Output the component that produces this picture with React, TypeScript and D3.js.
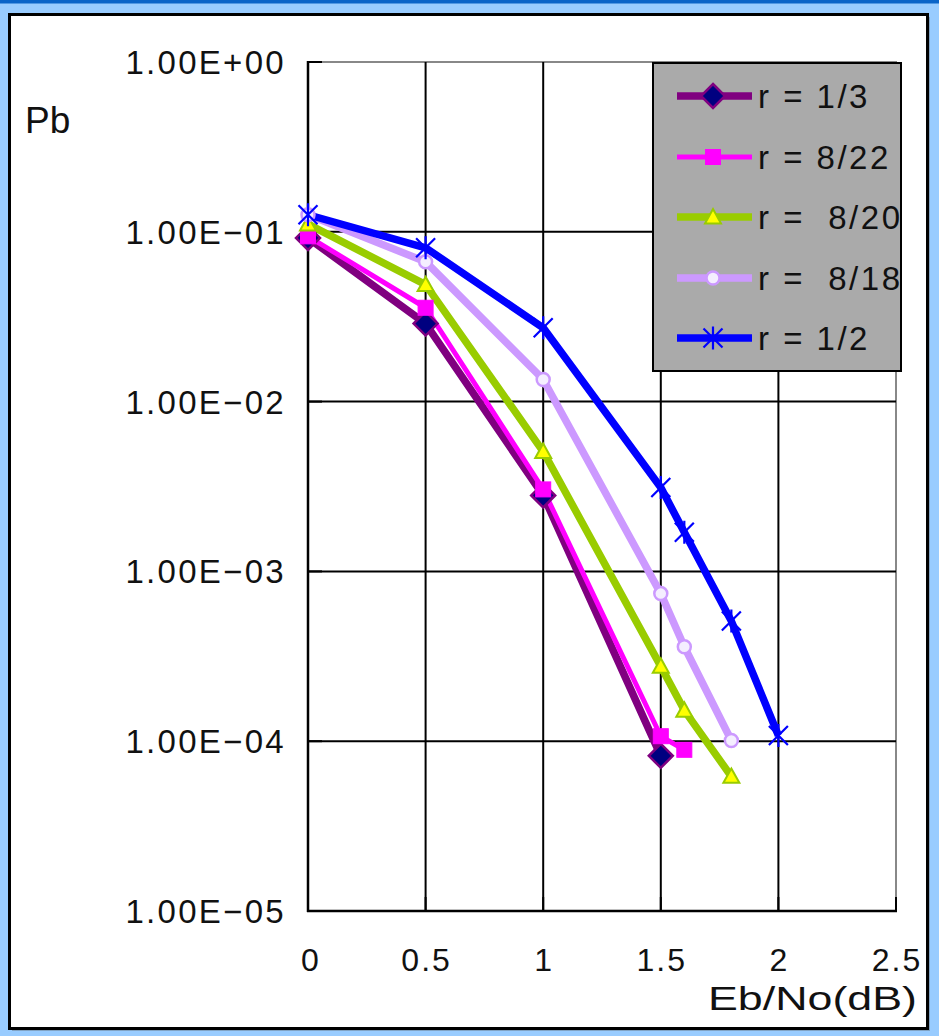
import React from "react";
import * as d3 from "d3";

const xTicks = [0, 0.5, 1, 1.5, 2, 2.5];
const xTickLabels = ["0", "0.5", "1", "1.5", "2", "2.5"];
const yTicks = [1, 1e-1, 1e-2, 1e-3, 1e-4, 1e-5];
const yTickLabels = ["1.00E+00", "1.00E−01", "1.00E−02", "1.00E−03", "1.00E−04", "1.00E−05"];

const xR13 = [0, 0.5, 1, 1.5];
const yR13 = [0.092, 0.0288, 0.0028, 8.2e-5];
const xR822 = [0, 0.5, 1, 1.5, 1.6];
const yR822 = [0.094, 0.0357, 0.00304, 1.07e-4, 8.9e-5];
const xR820 = [0, 0.5, 1, 1.5, 1.6, 1.8];
const yR820 = [0.111, 0.0488, 0.00508, 2.76e-4, 1.52e-4, 6.2e-5];
const xR818 = [0, 0.5, 1, 1.5, 1.6, 1.8];
const yR818 = [0.126, 0.0666, 0.0135, 7.4e-4, 3.6e-4, 1.01e-4];
const xR12 = [0, 0.5, 1, 1.5, 1.6, 1.8, 2];
const yR12 = [0.126, 0.0805, 0.0272, 0.00312, 0.0017, 5.1e-4, 1.08e-4];

const seriesNames = ["r = 1/3", "r = 8/22", "r =  8/20", "r =  8/18", "r = 1/2"];

type Marker = "diamond" | "square" | "triangle" | "circle" | "star";
const series = [
  { name: seriesNames[0], xs: xR13, ys: yR13, color: "#800080", width: 7.5, marker: "diamond" as Marker },
  { name: seriesNames[1], xs: xR822, ys: yR822, color: "#FF00FF", width: 5, marker: "square" as Marker },
  { name: seriesNames[2], xs: xR820, ys: yR820, color: "#99CC00", width: 7.5, marker: "triangle" as Marker },
  { name: seriesNames[3], xs: xR818, ys: yR818, color: "#CC99FF", width: 7.5, marker: "circle" as Marker },
  { name: seriesNames[4], xs: xR12, ys: yR12, color: "#0000FF", width: 7.5, marker: "star" as Marker },
];

const FONT = "'Liberation Sans', Arial, sans-serif";

function MarkerShape({ kind, x, y, color }: { kind: Marker; x: number; y: number; color: string }) {
  switch (kind) {
    case "diamond": {
      const s = 12;
      return (
        <path
          d={`M${x},${y - s}L${x + s},${y}L${x},${y + s}L${x - s},${y}Z`}
          fill="#000080"
          stroke="#800080"
          strokeWidth={2.5}
        />
      );
    }
    case "square": {
      const s = 7.5;
      return <rect x={x - s} y={y - s} width={2 * s} height={2 * s} fill="#FF00FF" stroke="#FF00FF" strokeWidth={1} />;
    }
    case "triangle": {
      const s = 8;
      return (
        <path
          d={`M${x},${y - s}L${x + s},${y + s * 0.8}L${x - s},${y + s * 0.8}Z`}
          fill="#FFFF00"
          stroke="#99CC00"
          strokeWidth={2}
        />
      );
    }
    case "circle":
      return <circle cx={x} cy={y} r={6.5} fill="#F4EEFF" stroke="#CC99FF" strokeWidth={2.5} />;
    case "star": {
      const s = 9.5;
      return (
        <path
          d={`M${x - s},${y - s}L${x + s},${y + s}M${x + s},${y - s}L${x - s},${y + s}M${x},${y - s - 2}L${x},${y + s + 2}`}
          stroke={color}
          strokeWidth={2.2}
          fill="none"
        />
      );
    }
  }
  return null;
}

export default function App() {
  const left = 308, right = 896, top = 62, bottom = 911;
  const x = d3.scaleLinear().domain([0, 2.5]).range([left, right]);
  const y = d3.scaleLog().domain([1e-5, 1]).range([bottom, top]);

  const legend = { x: 653, y: 63, w: 248, h: 308 };
  const legendRows = [96, 157, 217, 278, 338];

  return (
    <svg
      width={939}
      height={1036}
      style={{ position: "absolute", left: 0, top: 0, display: "block" }}
      fontFamily={FONT}
    >
      <rect x={0} y={0} width={939} height={1036} fill="#99CCFF" />
      <rect x={0} y={0} width={939} height={3.5} fill="#0A64C8" />
      {/* panel shadow */}
      <rect x={12} y={17} width={918} height={1014} fill="#555" opacity={0.35} />
      <rect x={9.5} y={14.5} width={918} height={1014} fill="#FFFFFF" stroke="#000" strokeWidth={3} />

      {/* plot border (gray) */}
      <rect x={left} y={top} width={right - left} height={bottom - top} fill="#FFFFFF" stroke="#888" strokeWidth={2} />

      {/* grid lines */}
      {xTicks.slice(1, -1).map((t) => (
        <line key={"gx" + t} x1={x(t)} x2={x(t)} y1={top} y2={bottom} stroke="#000" strokeWidth={2} />
      ))}
      {yTicks.slice(1, -1).map((t) => (
        <line key={"gy" + t} x1={left} x2={right} y1={y(t)} y2={y(t)} stroke="#000" strokeWidth={2} />
      ))}
      {/* ticks inside */}
      {xTicks.map((t) => (
        <line key={"tx" + t} x1={x(t)} x2={x(t)} y1={bottom} y2={bottom - 14} stroke="#000" strokeWidth={2} />
      ))}
      {yTicks.map((t) => (
        <line key={"ty" + t} x1={left} x2={left + 14} y1={y(t)} y2={y(t)} stroke="#000" strokeWidth={2} />
      ))}
      {/* axes */}
      <line x1={left} x2={left} y1={top - 1} y2={bottom + 1} stroke="#000" strokeWidth={2.5} />
      <line x1={left - 1} x2={right + 1} y1={bottom} y2={bottom} stroke="#000" strokeWidth={2.5} />

      {/* tick labels */}
      {yTicks.map((t, i) => (
        <text key={"ly" + t} x={286} y={y(t) + 12} fontSize={33} letterSpacing={2.3} textAnchor="end" fill="#111">
          {yTickLabels[i]}
        </text>
      ))}
      {xTicks.map((t, i) => (
        <text key={"lx" + t} x={x(t) + (i === 0 ? 3 : 1)} y={971} fontSize={32} letterSpacing={2} textAnchor="middle" fill="#111">
          {xTickLabels[i]}
        </text>
      ))}
      <text x={25} y={133} fontSize={37} fill="#111">Pb</text>
      <text x={708} y={1010} fontSize={34} fill="#111" textLength={209} lengthAdjust="spacingAndGlyphs">
        Eb/No(dB)
      </text>

      {/* series */}
      {series.map((s) => {
        const pts: [number, number][] = s.xs.map((v, i) => [x(v), y(s.ys[i])]);
        const line = d3.line()(pts) || "";
        return (
          <g key={s.name}>
            <path d={line} fill="none" stroke={s.color} strokeWidth={s.width} strokeLinejoin="round" />
          </g>
        );
      })}
      {series.map((s) => (
        <g key={s.name + "m"}>
          {s.xs.map((v, i) => (
            <MarkerShape key={i} kind={s.marker} x={x(v)} y={y(s.ys[i])} color={s.color} />
          ))}
        </g>
      ))}

      {/* legend */}
      <defs>
        <clipPath id="legclip">
          <rect x={legend.x} y={legend.y} width={legend.w} height={legend.h} />
        </clipPath>
      </defs>
      <rect x={legend.x} y={legend.y} width={legend.w} height={legend.h} fill="#AAAAAA" stroke="#000" strokeWidth={2} />
      <g clipPath="url(#legclip)">
        {series.map((s, i) => (
          <g key={s.name + "l"}>
            <line x1={677} x2={752} y1={legendRows[i]} y2={legendRows[i]} stroke={s.color} strokeWidth={s.width} />
            <MarkerShape kind={s.marker} x={713} y={legendRows[i]} color={s.color} />
            <text x={758} y={legendRows[i] + 12} fontSize={33} letterSpacing={2.5} fill="#111" style={{ whiteSpace: "pre" }}>
              {s.name}
            </text>
          </g>
        ))}
      </g>
      <rect x={legend.x} y={legend.y} width={legend.w} height={legend.h} fill="none" stroke="#000" strokeWidth={2} />
    </svg>
  );
}
